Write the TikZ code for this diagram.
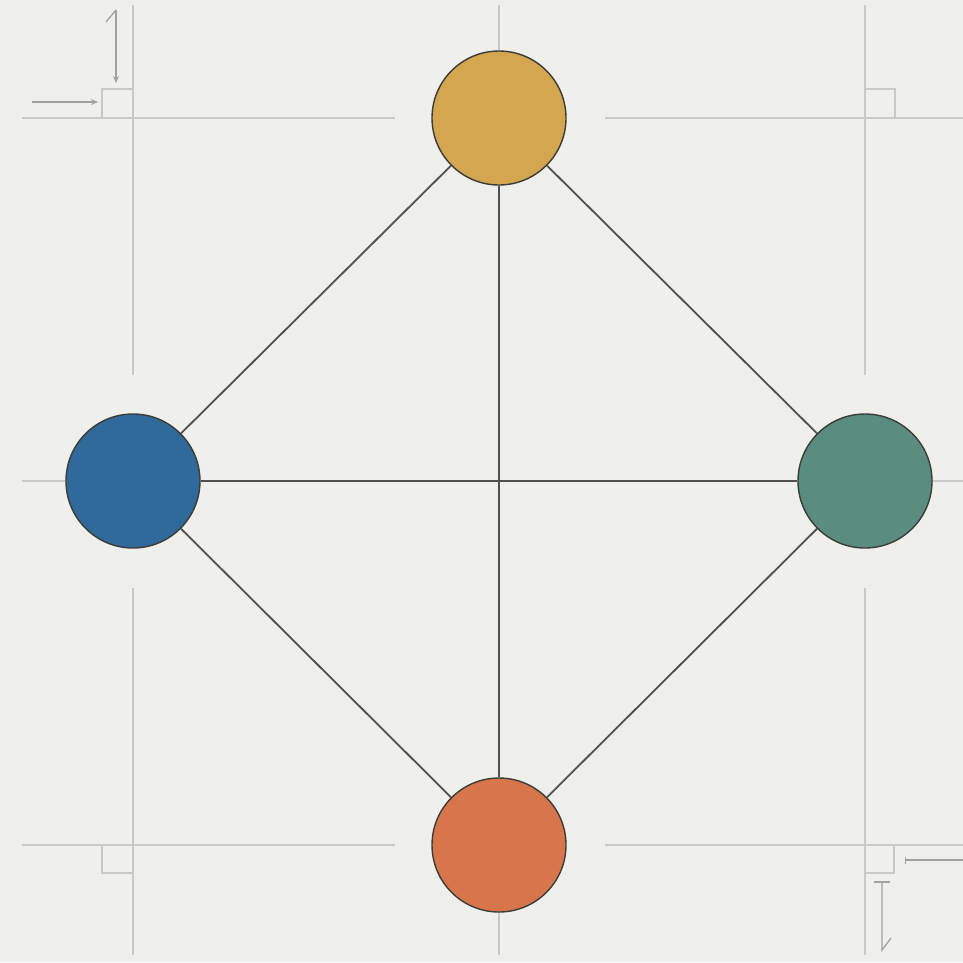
\documentclass[tikz,border=0pt]{standalone}
\usetikzlibrary{arrows.meta}
\definecolor{bg}{HTML}{EFEFEB}
\definecolor{guide}{HTML}{C9C9C5}
\definecolor{edgec}{HTML}{505050}
\definecolor{rim}{HTML}{3C3C38}
\definecolor{cgold}{HTML}{D3A64F}
\definecolor{cblue}{HTML}{2F6A9B}
\definecolor{cteal}{HTML}{5A8D80}
\definecolor{corange}{HTML}{D8764B}
\tikzset{
  guideline/.style={guide, line width=1.6pt},
  marker/.style={guide!80!black, line width=1.3pt},
  vertex/.style={circle, draw=rim, line width=1.4pt, minimum size=134pt, inner sep=0pt},
  link/.style={edgec, line width=1.8pt},
}
\begin{document}
\begin{tikzpicture}[x=1pt,y=-1pt]
\fill[bg] (0,0) rectangle (963,962);
\useasboundingbox (0,0) rectangle (963,962);
% guide lines
\draw[guideline] (22,118) -- (395,118);
\draw[guideline] (605,118) -- (963,118);
\draw[guideline] (22,845) -- (395,845);
\draw[guideline] (605,845) -- (963,845);
\draw[guideline] (22,481) -- (963,481);
\draw[guideline] (133,5) -- (133,375);
\draw[guideline] (133,588) -- (133,955);
\draw[guideline] (865,5) -- (865,375);
\draw[guideline] (865,588) -- (865,955);
\draw[guideline] (499,5) -- (499,955);
% right-angle marks
\draw[guideline] (133,89) -- (102,89) -- (102,118);
\draw[guideline] (865,89) -- (895,89) -- (895,118);
\draw[guideline] (133,873) -- (102,873) -- (102,845);
\draw[guideline] (865,873) -- (894,873) -- (894,845);
% small arrows
\coordinate (a1s) at (32,102); \coordinate (a1e) at (98,102);
\draw[marker, -{Stealth[length=7pt,width=6pt]}] (a1s) -- (a1e);
\coordinate (a2s) at (116,10); \coordinate (a2e) at (116,83);
\draw[marker, -{Stealth[length=7pt,width=6pt]}] (a2s) -- (a2e);
\draw[marker] (a2s) -- (106,22);
\coordinate (a3s) at (963,860); \coordinate (a3e) at (905,860);
\draw[marker, -{Bar[width=7pt]}] (a3s) -- (a3e);
\coordinate (a4s) at (882,882); \coordinate (a4e) at (882,950);
\draw[marker] (874,882) -- (890,882);
\draw[marker] (a4s) -- (a4e) -- (891,938);
% nodes
\node[vertex, fill=cgold] (top) at (499,118) {};
\node[vertex, fill=cblue] (left) at (133,481) {};
\node[vertex, fill=cteal] (right) at (865,481) {};
\node[vertex, fill=corange] (bottom) at (499,845) {};
% edges
\draw[link] (top) -- (left);
\draw[link] (top) -- (right);
\draw[link] (bottom) -- (left);
\draw[link] (bottom) -- (right);
\draw[link] (top) -- (bottom);
\draw[link, line width=2.4pt] (left) -- (right);
\end{tikzpicture}
\end{document}
